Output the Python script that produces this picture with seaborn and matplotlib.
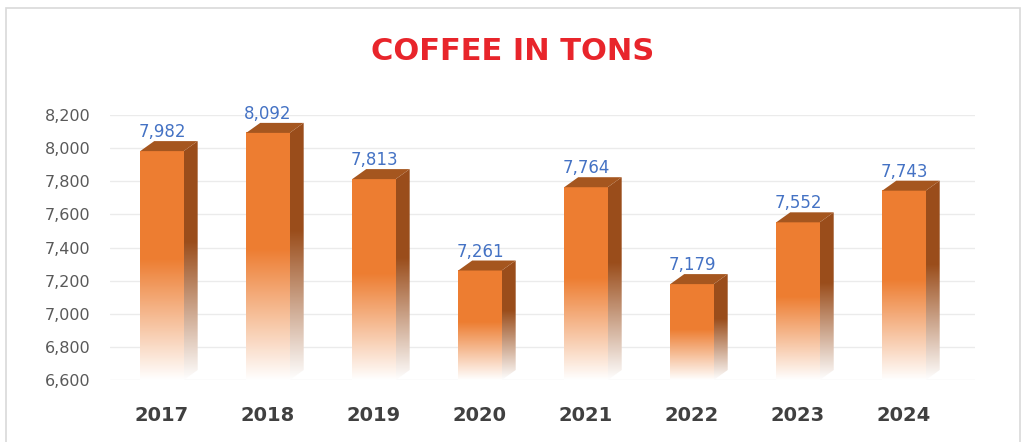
import numpy as np
import matplotlib
matplotlib.use("Agg")
import matplotlib.pyplot as plt
import seaborn as sns
import pandas as pd
from matplotlib.patches import Polygon, Rectangle
from matplotlib.colors import to_rgb

# ---- data ----
years = ["2017", "2018", "2019", "2020", "2021", "2022", "2023", "2024"]
tons = [7982, 8092, 7813, 7261, 7764, 7179, 7552, 7743]
y_ticks = [6600, 6800, 7000, 7200, 7400, 7600, 7800, 8000, 8200]
title = "COFFEE IN TONS"

sns.set_theme(style="white")
plt.rcParams['font.family'] = ['DejaVu Sans']

W, H = 1023, 442
fig = plt.figure(figsize=(W / 100, H / 100), dpi=100)
fig.patch.set_facecolor("white")
ax = fig.add_axes([110 / W, 1 - 380 / H, (975 - 110) / W, 265 / H])

df = pd.DataFrame({"year": years, "tons": tons})
sns.barplot(data=df, x="year", y="tons", color="#ED7D31", width=0.41,
            saturation=1, ax=ax)

YMIN, YMAX = y_ticks[0], y_ticks[-1]
XL = (-0.49, 7.67)
ax.set_ylim(YMIN, YMAX)
ax.set_xlim(*XL)

# depth offset of 3D bars (pixels -> data)
inv = ax.transData.inverted()
p0 = ax.transData.transform((0, YMIN))
dxy = inv.transform(p0 + np.array([14, 10])) - np.array([0, YMIN])
dx, dy = dxy

front = np.array(to_rgb("#ED7D31"))
side = np.array(to_rgb("#9A4D1B"))
topc = "#A5561F"


def fade_img(color, n=1000, start=0.47):
    t = np.linspace(0, 1, n)
    a = np.clip(1 - (t - start) / (1 - start), 0, 1)
    img = np.ones((n, 1, 3))
    # blend toward white instead of alpha to avoid banding
    img[:, 0, :] = a[:, None] * color[None, :] + (1 - a[:, None]) * 1.0
    return img


for p in list(ax.patches):
    x0 = p.get_x()
    w = p.get_width()
    top = p.get_y() + p.get_height()
    x1 = x0 + w
    p.set_visible(False)
    # front face
    ax.imshow(fade_img(front), extent=(x0, x1, YMIN, top), origin="upper",
              aspect="auto", zorder=3, interpolation="nearest")
    # side face
    poly = Polygon([(x1, YMIN), (x1, top), (x1 + dx, top + dy), (x1 + dx, YMIN + dy)],
                   closed=True, transform=ax.transData)
    im = ax.imshow(fade_img(side, start=0.42), extent=(x1, x1 + dx, YMIN, top + dy),
                   origin="upper", aspect="auto", zorder=3, interpolation="nearest")
    im.set_clip_path(poly)
    # top face
    ax.add_patch(Polygon([(x0, top), (x1, top), (x1 + dx, top + dy), (x0 + dx, top + dy)],
                         closed=True, facecolor=topc, edgecolor="none", zorder=4,
                         clip_on=False))
    ax.annotate(f"{int(round(p.get_height())):,}", xy=(x0 + w / 2, top + dy),
                xytext=(0, 0), textcoords="offset points", ha="center", va="bottom",
                color="#4472C4", fontsize=12, zorder=5, annotation_clip=False)

ax.set_ylim(YMIN, YMAX)
ax.set_xlim(*XL)
ax.set_yticks(y_ticks)
ax.set_yticklabels([f"{v:,}" for v in y_ticks])
ax.set_xlabel("")
ax.set_ylabel("")
ax.tick_params(axis="y", length=0, pad=14, labelsize=11.5, labelcolor="#595959")
ax.tick_params(axis="x", length=0, pad=19, labelsize=14, labelcolor="#404040")
for lbl in ax.get_xticklabels():
    lbl.set_fontweight("bold")
ax.yaxis.grid(True, color="#EBEBEB", lw=1)
ax.set_axisbelow(True)
for s in ax.spines.values():
    s.set_visible(False)
ax.set_facecolor("white")

fig.text(513 / W, 1 - 51 / H, title, ha="center", va="center", color="#E8252B",
         fontsize=22, fontweight="bold")

fig.add_artist(Rectangle((6 / W, -0.05), (1020 - 6) / W, 1.05 - 8 / H,
                         transform=fig.transFigure, fill=False,
                         edgecolor="#D9D9D9", lw=1.2))

fig.savefig("out.png", dpi=100)
